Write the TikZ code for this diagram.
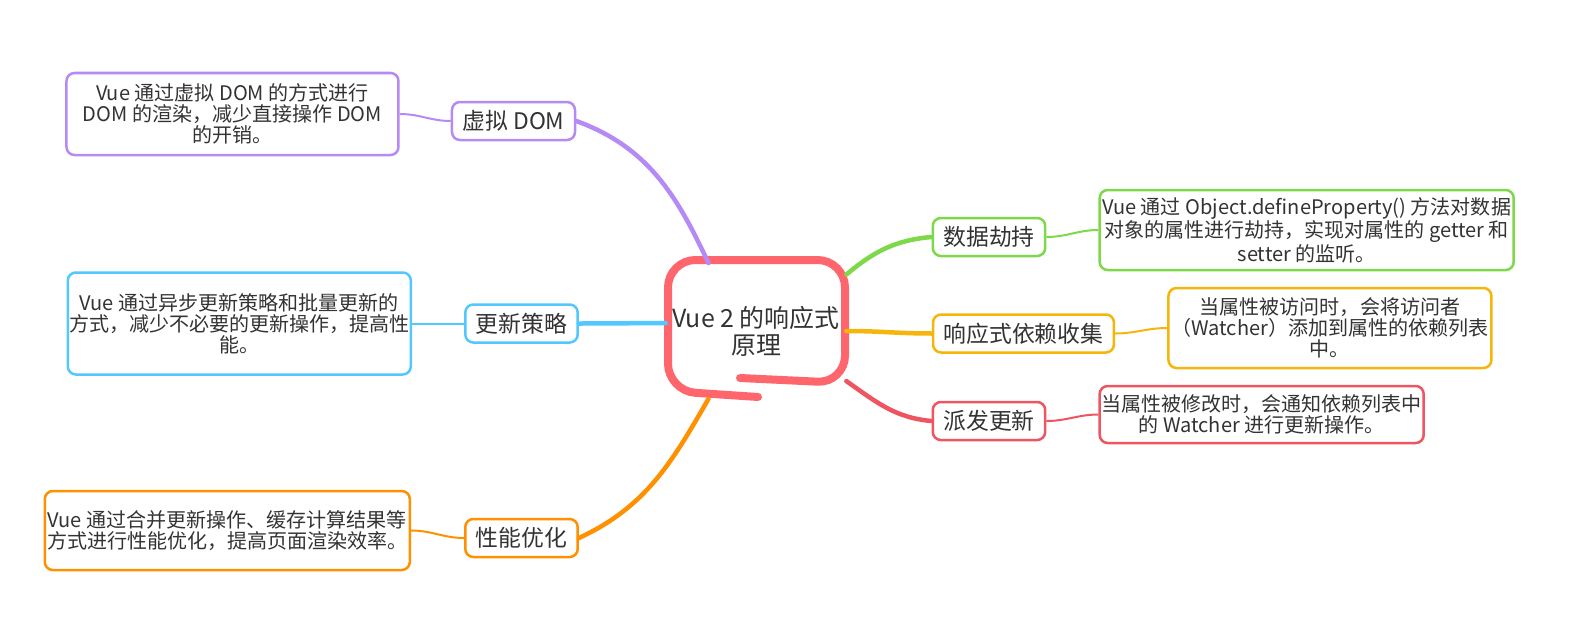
\documentclass[tikz,border=0pt]{standalone}
\usepackage{fontspec}
\setmainfont{Noto Sans CJK SC}
\usetikzlibrary{positioning}

\definecolor{textgray}{HTML}{333333}
\definecolor{rootred}{HTML}{FF656D}
\definecolor{vpurple}{HTML}{B58AF4}
\definecolor{vblue}{HTML}{52C8FF}
\definecolor{vorange}{HTML}{FF9000}
\definecolor{vgreen}{HTML}{7DD94A}
\definecolor{vyellow}{HTML}{F5B50A}
\definecolor{vred}{HTML}{EE5560}

\begin{document}
\begin{tikzpicture}[
    every node/.style={align=center, text=textgray},
    root/.style={minimum width=3.6cm, minimum height=2.7cm, inner sep=0pt, font=\fontsize{14.2}{15.4}\selectfont},
    topic/.style={draw=#1, fill=white, rounded corners=0.16cm, line width=0.05cm, inner xsep=0.21cm, inner ysep=0pt, minimum height=0.76cm, font=\fontsize{13}{14}\selectfont},
    detail/.style={draw=#1, fill=white, rounded corners=0.16cm, line width=0.05cm, inner sep=0pt, font=\fontsize{11.4}{12}\selectfont},
    branch/.style={draw=#1, line width=0.09cm, line cap=round},
    twig/.style={draw=#1, line width=0.04cm}
]
\useasboundingbox (0,0) rectangle (31.42,12.4);

% 中心主题
\node[root] (root) at (15.12, 5.78) {Vue 2 的响应式\\原理};
\draw[rootred, line width=0.16cm, line cap=round, rounded corners=0.55cm]
    (15.16,4.46) -- (13.36,4.58) -- (13.36,7.20) -- (16.90,7.20) -- (16.90,4.74) -- (14.80,4.84);

% 左侧分支
\node[topic=vpurple] (vdom) at (10.27, 9.98) {虚拟 DOM};
\node[topic=vblue] (update) at (10.43, 5.93) {更新策略};
\node[topic=vorange] (perf) at (10.43, 1.64) {性能优化};

\node[detail=vpurple, minimum width=6.64cm, minimum height=1.64cm, left=1.02cm of vdom, yshift=0.14cm] (vdomtxt)
    {Vue 通过虚拟 DOM 的方式进行\\DOM 的渲染，减少直接操作 DOM\\的开销。};
\node[detail=vblue, minimum width=6.86cm, minimum height=2.04cm, left=1.04cm of update] (updatetxt)
    {Vue 通过异步更新策略和批量更新的\\方式，减少不必要的更新操作，提高性\\能。};
\node[detail=vorange, minimum width=7.30cm, minimum height=1.58cm, left=1.06cm of perf, yshift=0.15cm] (perftxt)
    {Vue 通过合并更新操作、缓存计算结果等\\方式进行性能优化，提高页面渲染效率。};

% 右侧分支
\node[topic=vgreen] (hijack) at (19.78, 7.66) {数据劫持};
\node[topic=vyellow] (collect) at (20.47, 5.73) {响应式依赖收集};
\node[topic=vred] (notify) at (19.78, 3.98) {派发更新};

\node[detail=vgreen, minimum width=8.28cm, minimum height=1.60cm, right=1.04cm of hijack, yshift=0.14cm] (hijacktxt)
    {Vue 通过 Object.defineProperty() 方法对数据\\对象的属性进行劫持，实现对属性的 getter 和\\setter 的监听。};
\node[detail=vyellow, minimum width=6.46cm, minimum height=1.60cm, right=1.04cm of collect, yshift=0.11cm] (collecttxt)
    {当属性被访问时，会将访问者\\（Watcher）添加到属性的依赖列表\\中。};
\node[detail=vred, minimum width=6.48cm, minimum height=1.14cm, right=1.04cm of notify, yshift=0.13cm] (notifytxt)
    {当属性被修改时，会通知依赖列表中\\的 Watcher 进行更新操作。};

% 主干连线
\draw[branch=vpurple] (root.125) to[out=115, in=-20] (vdom.east);
\draw[branch=vblue] (root.175) to[out=180, in=0] (update.east);
\draw[branch=vorange] (root.235) to[out=240, in=25] (perf.east);
\draw[branch=vgreen] (root.32) to[out=40, in=185] (hijack.west);
\draw[branch=vyellow] (root.east) to[out=0, in=180] (collect.west);
\draw[branch=vred] (root.331) to[out=-35, in=175] (notify.west);

% 细节连线
\draw[twig=vpurple] (vdom.west) to[out=180, in=0] (vdomtxt.east);
\draw[twig=vblue] (update.west) to[out=180, in=0] (updatetxt.east);
\draw[twig=vorange] (perf.west) to[out=180, in=0] (perftxt.east);
\draw[twig=vgreen] (hijack.east) to[out=0, in=180] (hijacktxt.west);
\draw[twig=vyellow] (collect.east) to[out=0, in=180] (collecttxt.west);
\draw[twig=vred] (notify.east) to[out=0, in=180] (notifytxt.west);

\end{tikzpicture}
\end{document}
